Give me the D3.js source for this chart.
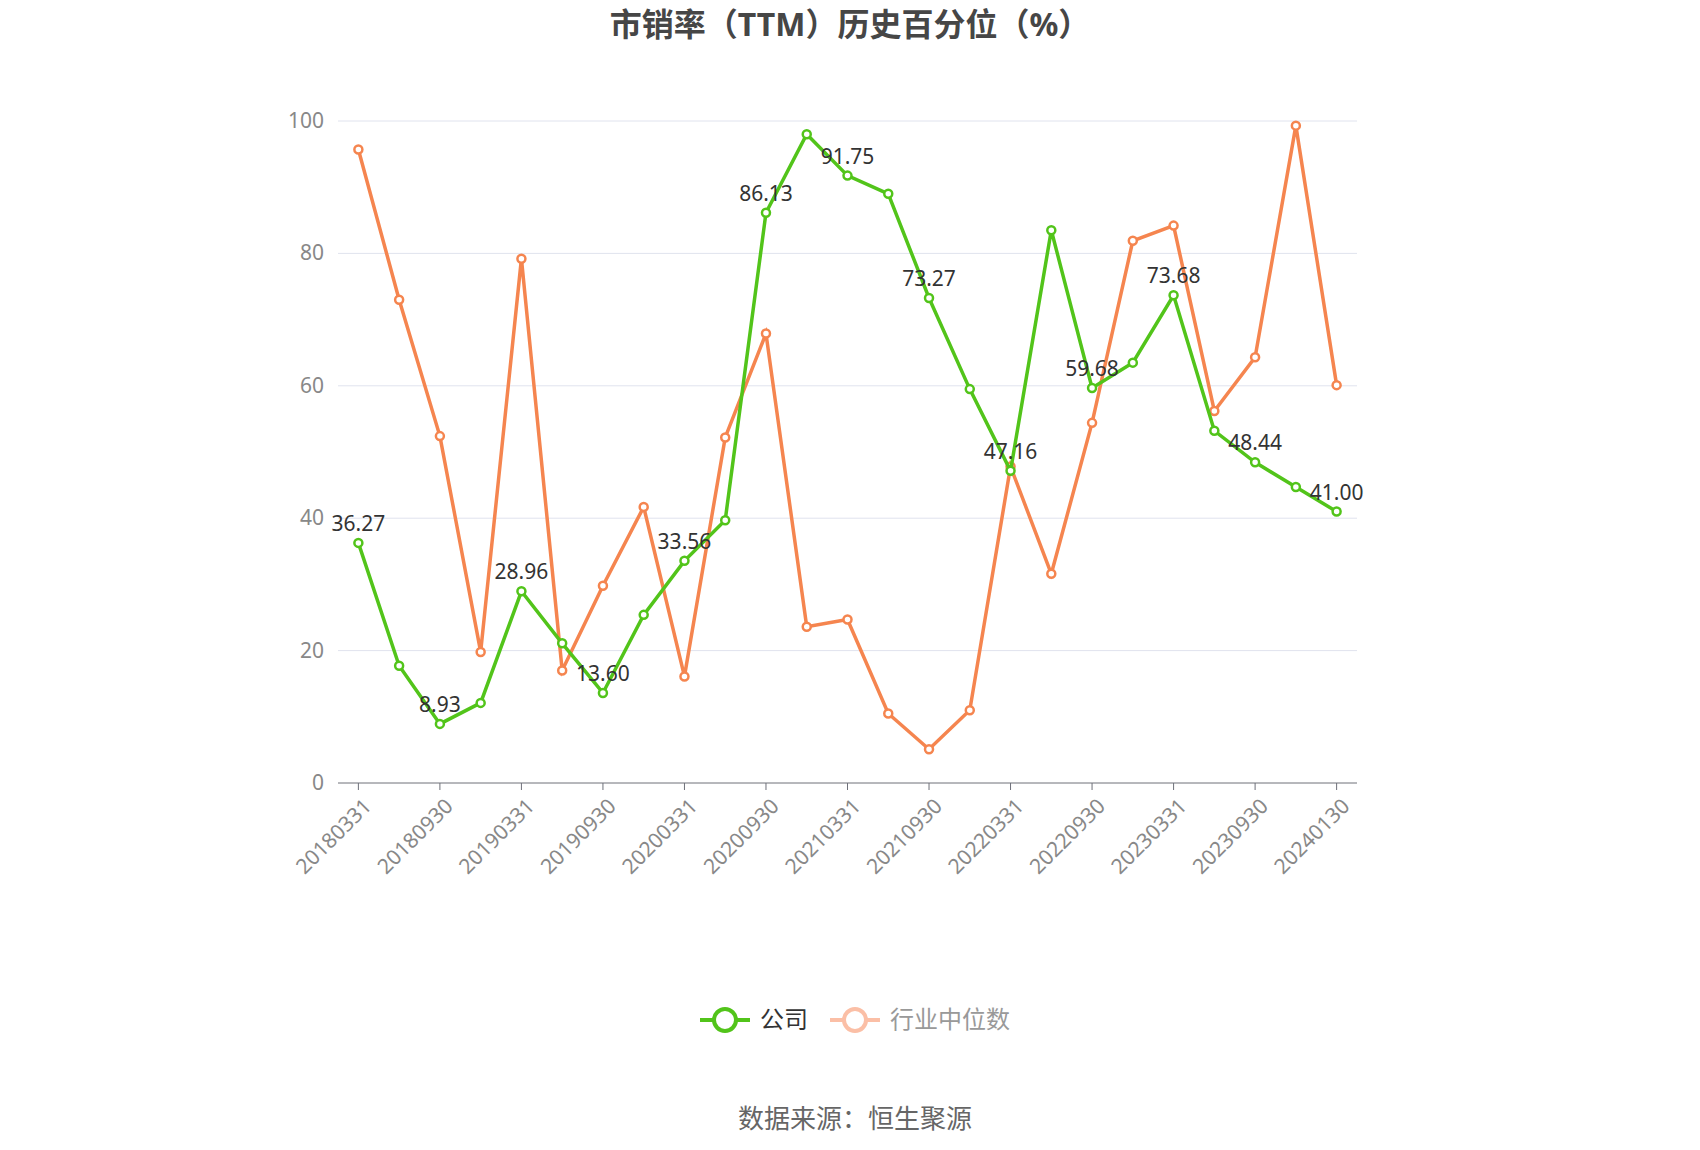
<!DOCTYPE html>
<html><head><meta charset="utf-8">
<script src="https://cdn.jsdelivr.net/npm/d3@7"></script>
<style>body{margin:0;background:#fff;font-family:"Noto Sans","Noto Sans CJK SC",sans-serif}</style>
</head><body><svg id="c" width="1700" height="1150"></svg>
<script>
const dates = ['20180331','20180630','20180930','20181231','20190331','20190630','20190930','20191231',
  '20200331','20200630','20200930','20201231','20210331','20210630','20210930','20211231',
  '20220331','20220630','20220930','20221231','20230331','20230630','20230930','20231231','20240130'];
const company = [36.27,17.7,8.93,12.1,28.96,21.1,13.60,25.4,33.56,39.7,86.13,98.0,91.75,89.0,73.27,59.5,
  47.16,83.5,59.68,63.5,73.68,53.2,48.44,44.7,41.00];
const industry = [95.7,73.0,52.4,19.8,79.2,17.0,29.8,41.7,16.1,52.2,67.9,23.6,24.7,10.5,5.1,11.0,
  47.8,31.6,54.4,81.9,84.2,56.2,64.3,99.3,60.1];
const yTicks = [0,20,40,60,80,100];

const svg = d3.select('#c');
const L = 338, R = 1357, T = 121, B = 783;
const x = d3.scaleBand().domain(dates).range([L, R]);
const cx = d => x(d) + x.bandwidth() / 2;
const y = d3.scaleLinear().domain([0, 100]).range([B, T]);

svg.append('text').attr('x', 850).attr('y', 36).attr('text-anchor', 'middle')
  .attr('font-size', 32).attr('font-weight', 'bold').attr('fill', '#464646')
  .text('市销率（TTM）历史百分位（%）');

svg.append('g').selectAll('line').data(yTicks.slice(1)).join('line')
  .attr('x1', L).attr('x2', R).attr('y1', y).attr('y2', y).attr('stroke', '#e0e3ee');
svg.append('g').selectAll('text').data(yTicks).join('text')
  .attr('x', L - 14).attr('y', d => y(d) + 7).attr('text-anchor', 'end')
  .attr('font-size', 21).attr('fill', '#888').text(d => d);

svg.append('line').attr('x1', L).attr('x2', R).attr('y1', B).attr('y2', B).attr('stroke', '#6e7079');
const shown = dates.filter((d, i) => i % 2 === 0);
const xg = svg.append('g');
xg.selectAll('line').data(shown).join('line')
  .attr('x1', cx).attr('x2', cx).attr('y1', B).attr('y2', B + 7).attr('stroke', '#6e7079');
xg.selectAll('text').data(shown).join('text')
  .attr('transform', d => `translate(${cx(d) + 4},${B + 14}) rotate(-45)`)
  .attr('text-anchor', 'end').attr('dy', '0.7em').attr('font-size', 21).attr('fill', '#888').text(d => d);

const line = d3.line().x((d, i) => cx(dates[i])).y(d => y(d));
function series(vals, color) {
  svg.append('path').attr('d', line(vals)).attr('fill', 'none').attr('stroke', color).attr('stroke-width', 3.5);
  svg.append('g').selectAll('circle').data(vals).join('circle')
    .attr('cx', (d, i) => cx(dates[i])).attr('cy', y).attr('r', 4)
    .attr('fill', '#fff').attr('stroke', color).attr('stroke-width', 2.5);
}
series(industry, '#f5854f');
series(company, '#52c41a');
svg.append('g').selectAll('text').data(company.map((v, i) => [v, i]).filter(d => d[1] % 2 === 0)).join('text')
  .attr('x', d => cx(dates[d[1]])).attr('y', d => y(d[0]) - 12).attr('text-anchor', 'middle')
  .attr('font-size', 21).attr('fill', '#333').text(d => d[0].toFixed(2));

const lg = svg.append('g').attr('transform', 'translate(0,1020)');
[['公司', '#52c41a', '#333', 700], ['行业中位数', '#fbbfa6', '#999', 830]].forEach(([t, c, tc, x0]) => {
  lg.append('line').attr('x1', x0).attr('x2', x0 + 50).attr('stroke', c).attr('stroke-width', 4);
  lg.append('circle').attr('cx', x0 + 25).attr('r', 11).attr('fill', '#fff').attr('stroke', c).attr('stroke-width', 4);
  lg.append('text').attr('x', x0 + 60).attr('y', 8).attr('font-size', 24).attr('fill', tc).text(t);
});
svg.append('text').attr('x', 855).attr('y', 1128).attr('text-anchor', 'middle')
  .attr('font-size', 26).attr('fill', '#666').text('数据来源：恒生聚源');
</script></body></html>
